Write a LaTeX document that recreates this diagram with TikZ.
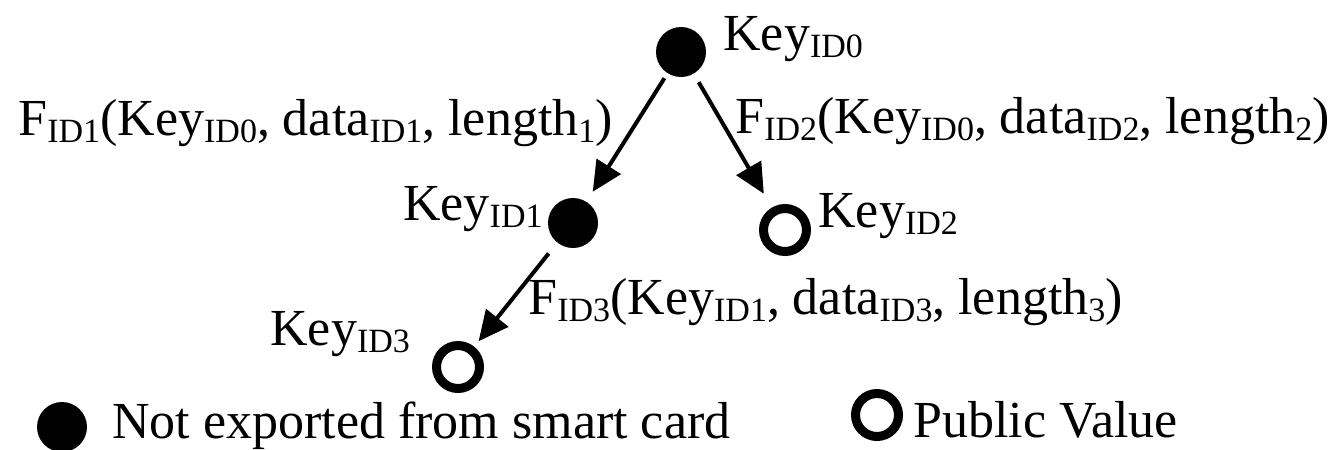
\documentclass[tikz,border=0pt]{standalone}
\usepackage{fontspec}
\setmainfont{Liberation Serif}
\usepackage{tikz}
\usetikzlibrary{positioning, arrows.meta}
\newcommand{\lowsub}[1]{\raisebox{-3.5pt}{\fontsize{17}{17}\selectfont #1}}
\tikzset{
  priv/.style={circle, fill=black, minimum size=25pt, inner sep=0pt, outer sep=0pt},
  pub/.style={circle, draw=black, line width=4.5pt, minimum size=21.5pt, inner sep=0pt},
  arr/.style={-{Triangle[length=15pt, width=14pt]}, line width=2pt},
  lbl/.style={font=\fontsize{26}{30}\selectfont, inner sep=0pt, anchor=base west},
}
\begin{document}
\begin{tikzpicture}[x=0.5pt, y=-0.5pt]
        \useasboundingbox (0,0) rectangle (1334,450);
        \node[priv] (k0) at (681,52) {};
        \node[priv] (k1) at (573,223) {};
        \node[pub] (k2) at (785,230) {};
        \node[pub] (k3) at (458,367) {};
        \node[lbl] (k0t) at (723,50) {Key\lowsub{ID0}};
        \node[lbl, anchor=base east] (k1t) at (543,220) {Key\lowsub{ID1}};
        \node[lbl] (k2t) at (818,227) {Key\lowsub{ID2}};
        \node[lbl] (k3t) at (270,345) {Key\lowsub{ID3}};
        \node[lbl] (f1) at (18,135) {F\lowsub{ID1}(Key\lowsub{ID0}, data\lowsub{ID1}, length\lowsub{1})};
        \node[lbl] (f2) at (735,133) {F\lowsub{ID2}(Key\lowsub{ID0}, data\lowsub{ID2}, length\lowsub{2})};
        \node[lbl] (f3) at (528,314) {F\lowsub{ID3}(Key\lowsub{ID1}, data\lowsub{ID3}, length\lowsub{3})};
        \draw[arr, shorten <=3pt, shorten >=6pt] (k0) -- (k1);
        \draw[arr, shorten <=5pt, shorten >=8pt] (k0) -- (k2);
        \draw[arr, shorten <=7pt, shorten >=3.5pt] (k1) -- (k3);
        % legend
        \node[priv] (lp) at (62,427) {};
        \node[lbl] (lpt) at (112,438) {Not exported from smart card};
        \node[pub] (lq) at (877,415) {};
        \node[lbl] (lqt) at (913,437) {Public Value};
      \end{tikzpicture}
\end{document}
